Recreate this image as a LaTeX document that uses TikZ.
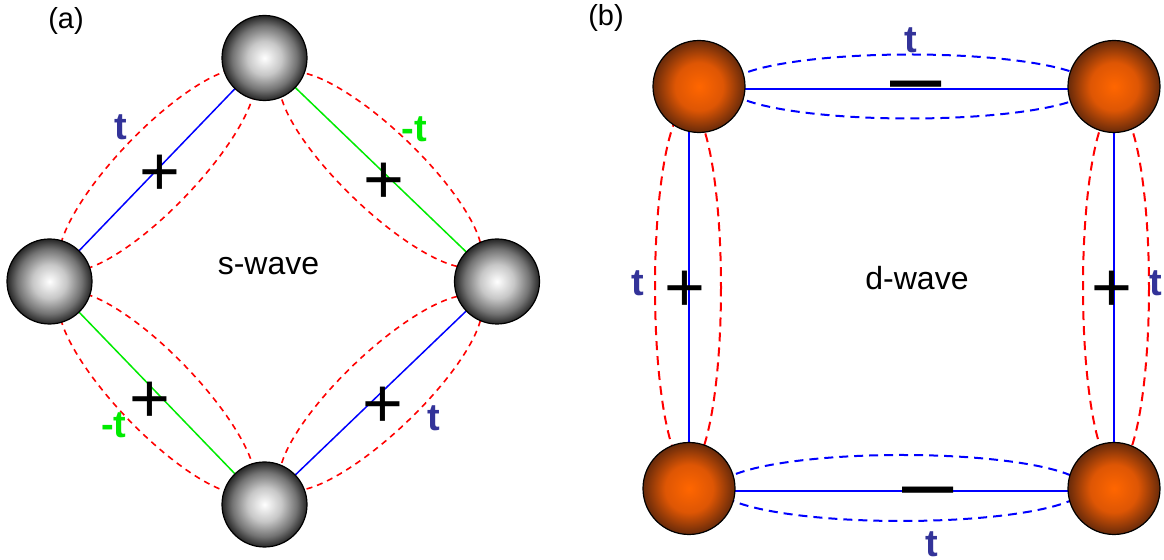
\documentclass[tikz,border=0pt]{standalone}
\usepackage{fontspec}
\setmainfont{Liberation Sans}
\usetikzlibrary{calc}
\definecolor{hopblue}{RGB}{0,0,255}
\definecolor{hopgreen}{RGB}{0,235,0}
\definecolor{pairred}{RGB}{255,0,0}
\definecolor{labelblue}{RGB}{51,51,153}
\definecolor{sphereorange}{RGB}{255,102,0}
\definecolor{spheremid}{RGB}{222,86,4}
\definecolor{spherebrown}{RGB}{104,42,10}
\pgfdeclareradialshading{graysphere}{\pgfpoint{0bp}{0bp}}{color(0bp)=(white); color(10bp)=(black!22); color(19bp)=(black!55); color(25bp)=(black!85); color(50bp)=(black!85)}
\pgfdeclareradialshading{orangesphere}{\pgfpoint{0bp}{0bp}}{color(0bp)=(sphereorange); color(13bp)=(spheremid); color(25bp)=(spherebrown); color(50bp)=(spherebrown)}
\begin{document}
\begin{tikzpicture}[x=0.5pt, y=-0.5pt, font=\fontsize{16}{16}\selectfont,
    ssite/.style={circle, draw, line width=0.6pt, minimum size=42.5pt, inner sep=0pt, shading=graysphere},
    dsite/.style={circle, draw, line width=0.6pt, minimum size=46pt, inner sep=0pt, shading=orangesphere},
    spair/.style={pairred, line width=0.8pt, dash pattern=on 3pt off 2.5pt},
    dpair/.style={line width=1pt, dash pattern=on 4.5pt off 3pt},
    hopamp/.style={text=labelblue, font=\bfseries\fontsize{19}{19}\selectfont},
    negamp/.style={text=hopgreen, font=\bfseries\fontsize{19}{19}\selectfont},
    sgn/.style={font=\fontsize{35}{35}\selectfont, inner sep=0pt},
    bar/.style={font=\fontsize{46}{46}\selectfont, inner sep=0pt, anchor=base, text height=14.5pt, text depth=0pt}]
  \useasboundingbox (0,0) rectangle (1164,560);
  % (a) s-wave
  \coordinate (T) at (264.5,58);
  \coordinate (L) at (49.5,281.5);
  \coordinate (R) at (497,281.5);
  \coordinate (B) at (264.5,504.5);
  \draw[spair, rotate around={46.1:($(L)!0.5!(T)$)}] ($(L)!0.5!(T)$) ellipse [x radius=135, y radius=39];
  \draw[spair, rotate around={-43.9:($(T)!0.5!(R)$)}] ($(T)!0.5!(R)$) ellipse [x radius=135, y radius=39];
  \draw[spair, rotate around={-46:($(L)!0.5!(B)$)}] ($(L)!0.5!(B)$) ellipse [x radius=135, y radius=39];
  \draw[spair, rotate around={43.8:($(B)!0.5!(R)$)}] ($(B)!0.5!(R)$) ellipse [x radius=135, y radius=39];
  \draw[hopblue, line width=0.75pt] (L) -- (T);
  \draw[hopgreen, line width=0.75pt] (T) -- (R);
  \draw[hopgreen, line width=0.75pt] (L) -- (B);
  \draw[hopblue, line width=0.75pt] (B) -- (R);
  \node[ssite] (sT) at (T) {};
  \node[ssite] (sL) at (L) {};
  \node[ssite] (sR) at (R) {};
  \node[ssite] (sB) at (B) {};
  \node (lbla) at (66,21) {\fontsize{14.5}{14.5}\selectfont (a)};
  \node (swave) at (268.5,266) {s-wave};
  \node[hopamp] (tLT) at (120.5,127) {t};
  \node[negamp] (tTR) at (414.5,129) {-t};
  \node[negamp] (tLB) at (114,425) {-t};
  \node[hopamp] (tBR) at (434,418) {t};
  \node[sgn] (pLT) at (160,175) {+};
  \node[sgn] (pTR) at (383.5,183) {+};
  \node[sgn] (pLB) at (150,402.5) {+};
  \node[sgn] (pBR) at (383,407) {+};
  % (b) d-wave
  \coordinate (TL) at (699,86.5);
  \coordinate (TR) at (1114,86.5);
  \coordinate (BL) at (689,488.5);
  \coordinate (BR) at (1114,488.5);
  \draw[dpair, hopblue] (910,86.5) ellipse [x radius=182, y radius=32];
  \draw[dpair, hopblue] (901.5,488) ellipse [x radius=183, y radius=33];
  \draw[dpair, pairred] (688,287.5) ellipse [x radius=33, y radius=181];
  \draw[dpair, pairred] (1116,287.5) ellipse [x radius=33, y radius=181];
  \draw[hopblue, line width=1pt] ([yshift=-1.25pt]TL) -- ([yshift=-1.25pt]TR);
  \draw[hopblue, line width=1pt] ([yshift=-1.25pt]BL) -- ([yshift=-1.25pt]BR);
  \draw[hopblue, line width=1pt] (BL) -- (BL |- TL);
  \draw[hopblue, line width=1pt] (BR) -- (TR);
  \node[dsite] (dTL) at (TL) {};
  \node[dsite] (dTR) at (TR) {};
  \node[dsite] (dBL) at (BL) {};
  \node[dsite] (dBR) at (BR) {};
  \node (lblb) at (606,18) {\fontsize{14.5}{14.5}\selectfont (b)};
  \node (dwave) at (917,278) {d-wave};
  \node[hopamp] (tTop) at (911,40) {t};
  \node[hopamp] (tBot) at (932,544) {t};
  \node[hopamp] (tLft) at (638,283) {t};
  \node[hopamp] (tRgt) at (1156,283) {t};
  \node[sgn] (pLft) at (685,291) {+};
  \node[sgn] (pRgt) at (1112,291) {+};
  \node[bar] (mTop) at (916,107.4) {–};
  \node[bar] (mBot) at (928.5,513.4) {–};
\end{tikzpicture}
\end{document}
